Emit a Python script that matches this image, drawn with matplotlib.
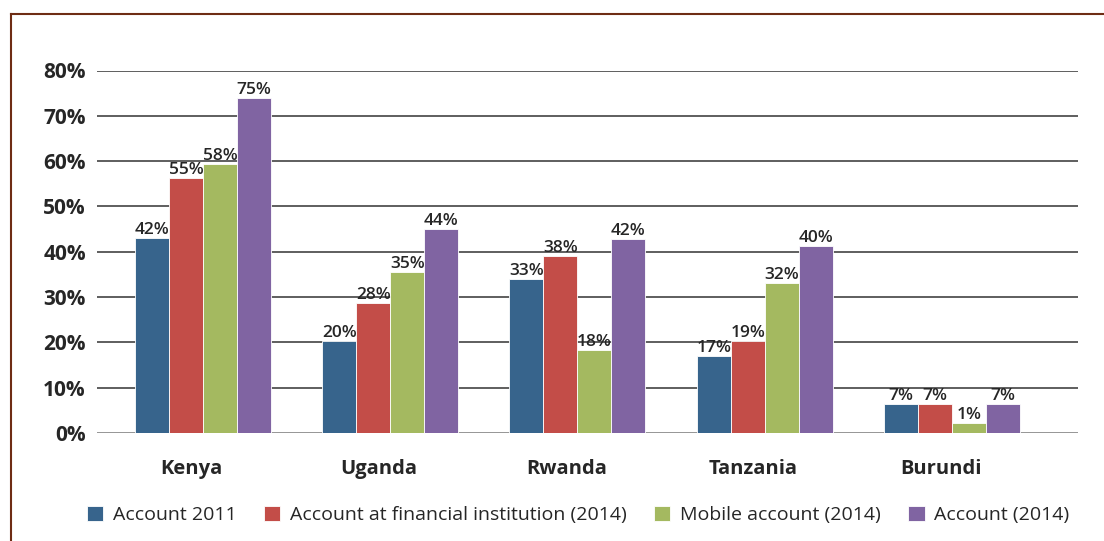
import numpy as np
import matplotlib
matplotlib.use("Agg")
import matplotlib.pyplot as plt
from matplotlib.lines import Line2D

plt.rcParams['font.family'] = ['Open Sans', 'DejaVu Sans']

countries = ["Kenya", "Uganda", "Rwanda", "Tanzania", "Burundi"]
series = ["Account 2011", "Account at financial institution (2014)",
          "Mobile account (2014)", "Account (2014)"]
# bar heights as drawn
acc_2011 = [43.0, 20.4, 33.9, 17.1, 6.5]
fin_2014 = [56.3, 28.6, 39.1, 20.4, 6.5]
mob_2014 = [59.3, 35.6, 18.4, 33.1, 2.1]
acc_2014 = [74.0, 45.0, 42.9, 41.3, 6.5]
# printed labels
lab_2011 = [42, 20, 33, 17, 7]
lab_fin = [55, 28, 38, 19, 7]
lab_mob = [58, 35, 18, 32, 1]
lab_acc = [75, 44, 42, 40, 7]

colors = ["#37648c", "#c34d48", "#a4b960", "#8064a2"]
heights = [acc_2011, fin_2014, mob_2014, acc_2014]
labels = [lab_2011, lab_fin, lab_mob, lab_acc]

fig = plt.figure(figsize=(11.04, 5.41), dpi=100)
ax = fig.add_axes([97/1104, 1-433/541, 981/1104, (433-70.5)/541])

x = np.arange(len(countries))
w = 0.1816
for i in range(4):
    pos = x + (i - 1.5) * w
    ax.bar(pos, heights[i], width=w, color=colors[i], edgecolor='white',
           linewidth=0.6, label=series[i], zorder=3)
    for px, h, t in zip(pos, heights[i], labels[i]):
        ax.annotate(f"{t}%", (px, h), xytext=(0, 4), textcoords='offset pixels',
                    ha='center', va='baseline', fontsize=12.5, fontweight='semibold',
                    color='#262626', zorder=4)

ax.set_xlim(-0.566, 4.673)
ax.set_ylim(0, 80)
ax.set_yticks(range(0, 81, 10))
ax.set_yticklabels([f"{v}%" for v in range(0, 81, 10)], fontsize=15,
                   fontweight='bold', color='#262626')
ax.set_xticks(x - 0.06)
ax.set_xticklabels(countries, fontsize=14.5, fontweight='bold', color='#262626')
ax.tick_params(axis='both', length=0)
ax.tick_params(axis='y', pad=8)
ax.tick_params(axis='x', pad=19)
for s in ax.spines.values():
    s.set_visible(False)
for v in range(10, 81, 10):
    ax.axhline(v, color='#333333', linewidth=1.1, zorder=1)
ax.axhline(0, color='#8c8c8c', linewidth=2.0, zorder=2)

fig.legend(loc='center', bbox_to_anchor=(578/1104, 1-515/541), ncol=4,
           frameon=False, fontsize=14, handlelength=0.85, handleheight=0.85,
           handletextpad=0.5, columnspacing=1.4, labelcolor='#262626')

# brown frame lines at top and left
fig.add_artist(Line2D([11/1104, 1], [1-14/541, 1-14/541], transform=fig.transFigure,
                      color='#6e2c14', linewidth=1.5))
fig.add_artist(Line2D([11/1104, 11/1104], [0, 1-14/541], transform=fig.transFigure,
                      color='#6e2c14', linewidth=1.5))

fig.savefig("out.png", dpi=100)
